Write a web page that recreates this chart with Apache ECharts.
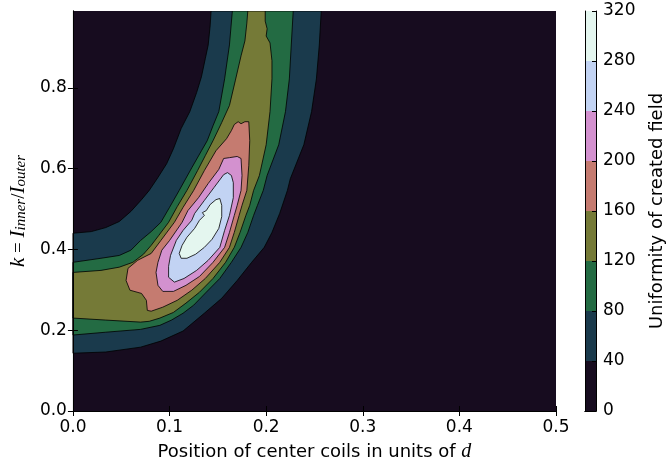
<!DOCTYPE html>
<html>
<head>
<meta charset="utf-8">
<script src="https://cdn.jsdelivr.net/npm/echarts@6/dist/echarts.min.js"></script>
<style>
  html, body { margin: 0; padding: 0; background: #fff; }
  #chart { width: 667px; height: 468px; }
</style>
</head>
<body>
<div id="chart"></div>
<script>
// Tick positions of the axes and the colour bar
const xTicks = [0.0, 0.1, 0.2, 0.3, 0.4, 0.5];
const yTicks = [0.0, 0.2, 0.4, 0.6, 0.8];
const kMax = 0.99;
const levels = [0, 40, 80, 120, 160, 200, 240, 280, 320];

// Contour outlines, [position, k]: region where uniformity >= level
const contour40 = [
  [0.000, 0.143], [0.000, 0.440], [0.019, 0.444], [0.034, 0.454], [0.048, 0.469],
  [0.060, 0.494], [0.071, 0.523], [0.079, 0.546], [0.088, 0.578], [0.097, 0.612],
  [0.104, 0.649], [0.112, 0.699], [0.121, 0.741], [0.128, 0.788], [0.133, 0.827],
  [0.137, 0.872], [0.140, 0.906], [0.142, 0.953], [0.143, 0.990],
  [0.257, 0.990], [0.255, 0.906], [0.252, 0.822], [0.247, 0.741], [0.239, 0.659],
  [0.225, 0.575], [0.222, 0.546], [0.214, 0.489], [0.206, 0.442], [0.198, 0.405],
  [0.185, 0.368], [0.170, 0.323], [0.154, 0.279], [0.136, 0.242], [0.114, 0.198],
  [0.091, 0.173], [0.070, 0.158], [0.034, 0.146]
];
const contour80 = [
  [0.000, 0.188], [0.000, 0.368], [0.029, 0.378], [0.048, 0.385], [0.060, 0.398],
  [0.070, 0.422], [0.081, 0.444], [0.091, 0.467], [0.100, 0.504], [0.110, 0.546],
  [0.123, 0.602], [0.133, 0.644], [0.139, 0.669], [0.145, 0.706], [0.151, 0.741],
  [0.157, 0.822], [0.162, 0.906], [0.165, 0.990],
  [0.228, 0.990], [0.226, 0.906], [0.224, 0.822], [0.220, 0.741], [0.213, 0.659],
  [0.201, 0.583], [0.197, 0.546], [0.191, 0.509], [0.187, 0.484], [0.181, 0.442],
  [0.174, 0.405], [0.164, 0.368], [0.152, 0.328], [0.138, 0.294], [0.125, 0.262],
  [0.114, 0.242], [0.102, 0.225], [0.090, 0.212], [0.070, 0.202], [0.034, 0.195]
];
const contour120 = [
  [0.000, 0.230], [0.000, 0.343], [0.029, 0.348], [0.048, 0.356], [0.062, 0.368],
  [0.073, 0.388], [0.081, 0.410], [0.089, 0.435], [0.099, 0.467], [0.108, 0.506],
  [0.118, 0.546], [0.129, 0.595], [0.137, 0.632], [0.145, 0.669], [0.154, 0.714],
  [0.162, 0.756], [0.168, 0.817], [0.174, 0.879], [0.178, 0.916], [0.180, 0.960],
  [0.181, 0.990],
  [0.199, 0.990], [0.199, 0.965], [0.201, 0.946], [0.200, 0.928], [0.204, 0.911],
  [0.206, 0.867], [0.206, 0.822], [0.204, 0.741], [0.200, 0.659], [0.193, 0.583],
  [0.187, 0.546], [0.183, 0.509], [0.179, 0.484], [0.173, 0.442], [0.167, 0.405],
  [0.158, 0.368], [0.145, 0.328], [0.131, 0.294], [0.117, 0.267], [0.104, 0.244],
  [0.090, 0.230], [0.079, 0.222], [0.070, 0.220], [0.034, 0.225]
];
const contour160 = [
  [0.167, 0.709], [0.171, 0.716], [0.174, 0.711], [0.178, 0.716], [0.182, 0.716],
  [0.183, 0.669], [0.182, 0.607], [0.180, 0.546], [0.175, 0.509], [0.172, 0.484],
  [0.167, 0.442], [0.162, 0.405], [0.152, 0.368], [0.137, 0.328], [0.123, 0.299],
  [0.108, 0.274], [0.093, 0.257], [0.081, 0.247], [0.077, 0.249], [0.076, 0.274],
  [0.071, 0.291], [0.059, 0.299], [0.055, 0.323], [0.057, 0.353], [0.067, 0.373],
  [0.081, 0.390], [0.091, 0.422], [0.105, 0.467], [0.114, 0.504], [0.125, 0.546],
  [0.136, 0.595], [0.148, 0.644], [0.159, 0.674], [0.164, 0.694]
];
const contour200 = [
  [0.156, 0.625], [0.162, 0.627], [0.170, 0.630], [0.174, 0.625], [0.175, 0.583],
  [0.174, 0.546], [0.170, 0.509], [0.167, 0.484], [0.162, 0.442], [0.157, 0.405],
  [0.145, 0.368], [0.131, 0.333], [0.117, 0.311], [0.104, 0.296], [0.093, 0.296],
  [0.088, 0.311], [0.086, 0.343], [0.088, 0.368], [0.092, 0.398], [0.100, 0.422],
  [0.113, 0.467], [0.119, 0.496], [0.130, 0.528], [0.140, 0.563], [0.151, 0.598]
];
const contour240 = [
  [0.156, 0.585], [0.160, 0.590], [0.164, 0.583], [0.166, 0.565], [0.166, 0.528],
  [0.162, 0.484], [0.157, 0.447], [0.152, 0.405], [0.140, 0.373], [0.128, 0.348],
  [0.115, 0.328], [0.105, 0.319], [0.099, 0.331], [0.099, 0.358], [0.101, 0.385],
  [0.107, 0.422], [0.114, 0.447], [0.123, 0.472], [0.126, 0.489], [0.136, 0.521],
  [0.146, 0.553]
];
const contour280 = [
  [0.148, 0.523], [0.152, 0.526], [0.154, 0.509], [0.154, 0.481], [0.151, 0.452],
  [0.144, 0.425], [0.136, 0.405], [0.127, 0.388], [0.118, 0.378], [0.112, 0.378],
  [0.110, 0.390], [0.113, 0.410], [0.118, 0.430], [0.126, 0.452], [0.131, 0.472],
  [0.136, 0.484], [0.134, 0.491], [0.138, 0.496], [0.142, 0.511]
];

// Filled bands of the colour map, lowest first
const bandColors = ['#170c1f', '#1a3a4c', '#236b43', '#757a37', '#c57b70', '#d391cf', '#c2d3f3', '#e4f6ef'];
const contours = [contour40, contour80, contour120, contour160, contour200, contour240, contour280];

const FONT = 'DejaVu Sans';
const LABEL_SIZE = 17;
const TITLE_SIZE = 18;
const fmt1 = v => Number(v).toFixed(1);

const chart = echarts.init(document.getElementById('chart'), null, { renderer: 'canvas' });

const frameAxis = (extra) => Object.assign({
  z: 10,
  axisLine: { show: true, lineStyle: { color: '#000', width: 1 } },
  axisTick: { show: false },
  axisLabel: { show: false },
  splitLine: { show: false }
}, extra);

const option = {
  animation: false,
  backgroundColor: '#fff',
  grid: [
    { left: 72, right: 111, top: 11, bottom: 57, show: true, backgroundColor: bandColors[0], borderWidth: 0 },
    { left: 585, width: 20, top: 11, bottom: 57, show: false }
  ],
  xAxis: [
    frameAxis({
      gridIndex: 0, type: 'value', position: 'bottom', min: 0, max: 0.5,
      axisTick: { show: true, inside: true, length: 5, customValues: xTicks, lineStyle: { color: '#000' } },
      axisLabel: { show: true, customValues: xTicks, formatter: fmt1, margin: 8,
        color: '#000', fontFamily: FONT, fontSize: LABEL_SIZE },
      name: '{a|Position of center coils in units of }{m|d}',
      nameLocation: 'middle', nameGap: 31,
      nameTextStyle: {
        rich: {
          a: { fontFamily: FONT, fontSize: TITLE_SIZE, color: '#000' },
          m: { fontFamily: 'Liberation Serif', fontStyle: 'italic', fontSize: 20, color: '#000' }
        }
      }
    }),
    frameAxis({
      gridIndex: 0, type: 'value', position: 'top', min: 0, max: 0.5,
      axisTick: { show: true, inside: true, length: 5, customValues: xTicks, lineStyle: { color: '#000' } }
    }),
    frameAxis({ gridIndex: 1, type: 'category', position: 'bottom', data: ['cb'] }),
    frameAxis({ gridIndex: 1, type: 'category', position: 'top', data: ['cb'] })
  ],
  yAxis: [
    frameAxis({
      gridIndex: 0, type: 'value', position: 'left', min: 0, max: kMax,
      axisTick: { show: true, inside: true, length: 5, customValues: yTicks, lineStyle: { color: '#000' } },
      axisLabel: { show: true, customValues: yTicks, formatter: fmt1, margin: 6,
        color: '#000', fontFamily: FONT, fontSize: LABEL_SIZE },
      name: '{i|k}{r| = }{i|I}{s|inner}{r|/}{i|I}{s|outer}',
      nameLocation: 'middle', nameRotate: 90, nameGap: 43,
      nameTextStyle: {
        rich: {
          i: { fontFamily: 'Liberation Serif', fontStyle: 'italic', fontSize: 21, lineHeight: 26, verticalAlign: 'bottom', color: '#000' },
          r: { fontFamily: 'Liberation Serif', fontSize: 19, lineHeight: 26, verticalAlign: 'bottom', color: '#000' },
          s: { fontFamily: 'Liberation Serif', fontStyle: 'italic', fontSize: 15, lineHeight: 14, verticalAlign: 'bottom', color: '#000' }
        }
      }
    }),
    frameAxis({
      gridIndex: 0, type: 'value', position: 'right', min: 0, max: kMax,
      axisTick: { show: true, inside: true, length: 5, customValues: yTicks, lineStyle: { color: '#000' } }
    }),
    frameAxis({
      gridIndex: 1, type: 'value', position: 'right', min: levels[0], max: levels[levels.length - 1],
      axisTick: { show: true, inside: true, length: 4, customValues: levels, lineStyle: { color: '#000' } },
      axisLabel: { show: true, customValues: levels, margin: 7, color: '#000', fontFamily: FONT, fontSize: LABEL_SIZE },
      name: 'Uniformity of created field',
      nameLocation: 'middle', nameRotate: 90, nameGap: 52,
      nameTextStyle: { fontFamily: FONT, fontSize: TITLE_SIZE, color: '#000' }
    }),
    frameAxis({ gridIndex: 1, type: 'value', position: 'left', min: levels[0], max: levels[levels.length - 1] })
  ],
  series: [
    {
      type: 'custom',
      xAxisIndex: 0, yAxisIndex: 0,
      silent: true, clip: true, z: 2,
      data: contours.map((c, i) => [i]),
      renderItem: function (params, api) {
        const idx = params.dataIndex;
        const pts = contours[idx].map(p => api.coord(p));
        return {
          type: 'polygon',
          shape: { points: pts },
          style: { fill: bandColors[idx + 1], stroke: '#000', lineWidth: 0.8 }
        };
      }
    }
  ].concat(bandColors.map((c, i) => ({
    type: 'bar',
    xAxisIndex: 2, yAxisIndex: 2,
    stack: 'colorbar',
    barWidth: '100%',
    silent: true,
    itemStyle: { color: c },
    data: [levels[i + 1] - levels[i]]
  })))
};

chart.setOption(option);
</script>
</body>
</html>
